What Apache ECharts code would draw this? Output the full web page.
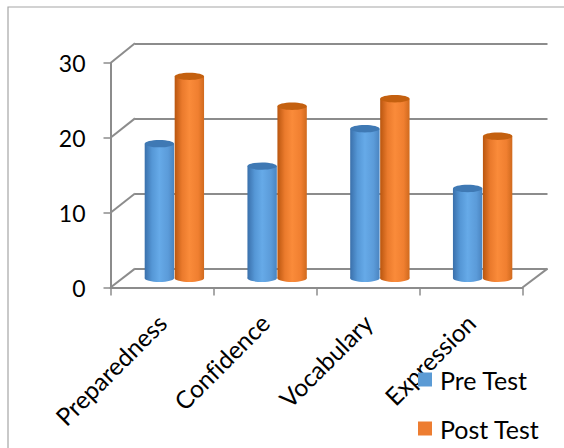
<!DOCTYPE html>
<html>
<head>
<meta charset="utf-8">
<script src="https://cdn.jsdelivr.net/npm/echarts@6/dist/echarts.min.js"></script>
<style>
  html, body { margin: 0; padding: 0; background: #ffffff; }
  #chart { width: 564px; height: 448px; }
  #chart text { font-variant-ligatures: none; }
</style>
</head>
<body>
<div id="chart"></div>
<script>
// Scores per skill, before and after
const categories = ['Preparedness', 'Confidence', 'Vocabulary', 'Expression'];
const preTest = [18, 15, 20, 12];
const postTest = [27, 23, 24, 19];
const yTicks = [0, 10, 20, 30];
const seriesNames = ['Pre Test', 'Post Test'];

const FONT = 'Lato';
const LINE = '#8c8c8c';

// Box layout: front face, back wall and the plane the cylinders stand on
const front = { left: 110.5, top: 63, width: 412, height: 224.5 };
const back = { left: 135, top: 43.3, width: 412.5, height: 225.3 };
const mid = { left: 123, top: 53.9, width: 411, height: 224.4 };

function cylinder(side, stops, topColor) {
  return function (params, api) {
    const cat = api.value(0);
    const val = api.value(1);
    const band = api.size([1, 0])[0];
    const w = band * 0.286;
    const topPt = api.coord([cat, val]);
    const basePt = api.coord([cat, 0]);
    const cx = topPt[0] + side * w * 0.51;
    const ry = 3.7;
    const grad = new echarts.graphic.LinearGradient(0, 0, 1, 0, stops);
    return {
      type: 'group',
      children: [
        { type: 'ellipse', shape: { cx: cx, cy: basePt[1], rx: w / 2, ry: ry }, style: { fill: grad } },
        { type: 'rect', shape: { x: cx - w / 2, y: topPt[1], width: w, height: basePt[1] - topPt[1] }, style: { fill: grad } },
        { type: 'ellipse', shape: { cx: cx, cy: topPt[1], rx: w / 2, ry: ry }, style: { fill: topColor } }
      ]
    };
  };
}

const blueStops = [
  { offset: 0, color: '#3a70ab' },
  { offset: 0.25, color: '#5597d6' },
  { offset: 0.5, color: '#66aae8' },
  { offset: 0.8, color: '#5b9bd9' },
  { offset: 1, color: '#4a84c0' }
];
const orangeStops = [
  { offset: 0, color: '#b9560f' },
  { offset: 0.25, color: '#ea7a2c' },
  { offset: 0.5, color: '#fa8b3a' },
  { offset: 0.8, color: '#f07f30' },
  { offset: 1, color: '#d06a1e' }
];

const chart = echarts.init(document.getElementById('chart'), null, { renderer: 'svg' });

chart.setOption({
  animation: false,
  backgroundColor: '#ffffff',
  textStyle: { fontFamily: FONT },
  grid: [
    Object.assign({ containLabel: false }, front),
    Object.assign({ containLabel: false }, back),
    Object.assign({ containLabel: false }, mid)
  ],
  xAxis: [
    {
      gridIndex: 0, type: 'category', data: categories,
      axisLine: { show: true, lineStyle: { color: LINE, width: 2 } },
      axisTick: { show: true, length: 8, lineStyle: { color: LINE, width: 1.5 } },
      axisLabel: { rotate: 45, margin: 31, color: '#000', fontSize: 24.5, fontFamily: FONT },
      splitLine: { show: false }
    },
    { gridIndex: 1, type: 'category', data: categories, show: false },
    { gridIndex: 2, type: 'category', data: categories, show: false }
  ],
  yAxis: [
    {
      gridIndex: 0, type: 'value', min: 0, max: 30, interval: 10,
      axisLine: { show: true, lineStyle: { color: LINE, width: 2 } },
      axisTick: { show: true, length: 7, lineStyle: { color: LINE, width: 1.5 } },
      axisLabel: { margin: 25, color: '#000', fontSize: 23, fontFamily: FONT },
      splitLine: { show: false }
    },
    {
      gridIndex: 1, type: 'value', min: 0, max: 30, interval: 10,
      axisLine: { show: false }, axisTick: { show: false }, axisLabel: { show: false },
      splitLine: { show: true, lineStyle: { color: LINE, width: 2 } }
    },
    {
      gridIndex: 2, type: 'value', min: 0, max: 30, interval: 10,
      axisLine: { show: false }, axisTick: { show: false }, axisLabel: { show: false },
      splitLine: { show: false }
    }
  ],
  legend: {
    orient: 'vertical',
    left: 413, top: 362, height: 120,
    itemWidth: 14, itemHeight: 14, itemGap: 24,
    icon: 'rect',
    data: seriesNames,
    textStyle: { color: '#000', fontSize: 25, lineHeight: 25, fontFamily: FONT, padding: [0, 0, 0, 3] }
  },
  series: [
    {
      name: seriesNames[0], type: 'custom', xAxisIndex: 2, yAxisIndex: 2,
      itemStyle: { color: '#5b9bd5' },
      encode: { x: 0, y: 1 },
      data: preTest.map(function (v, i) { return [i, v]; }),
      renderItem: cylinder(-1, blueStops, '#3f79b4')
    },
    {
      name: seriesNames[1], type: 'custom', xAxisIndex: 2, yAxisIndex: 2,
      itemStyle: { color: '#ed7d31' },
      encode: { x: 0, y: 1 },
      data: postTest.map(function (v, i) { return [i, v]; }),
      renderItem: cylinder(1, orangeStops, '#c4600f')
    }
  ]
});

// Side wall and floor edges joining the front axis to the back wall
const edges = [];
yTicks.forEach(function (v) {
  const yf = chart.convertToPixel({ yAxisIndex: 0 }, v);
  const yb = chart.convertToPixel({ yAxisIndex: 1 }, v);
  edges.push({
    type: 'line', silent: true,
    shape: { x1: front.left, y1: yf, x2: back.left, y2: yb },
    style: { stroke: LINE, lineWidth: 2 }
  });
});
const yf0 = chart.convertToPixel({ yAxisIndex: 0 }, 0);
const yb0 = chart.convertToPixel({ yAxisIndex: 1 }, 0);
edges.push({
  type: 'line', silent: true,
  shape: { x1: front.left + front.width, y1: yf0, x2: back.left + back.width, y2: yb0 },
  style: { stroke: LINE, lineWidth: 2 }
});
// Outer frame of the chart area
edges.push({
  type: 'rect', silent: true, z: -1,
  shape: { x: 8, y: 7, width: 620, height: 500 },
  style: { fill: 'none', stroke: '#a6a6a6', lineWidth: 1.2 }
});

chart.setOption({ graphic: edges });
</script>
</body>
</html>
